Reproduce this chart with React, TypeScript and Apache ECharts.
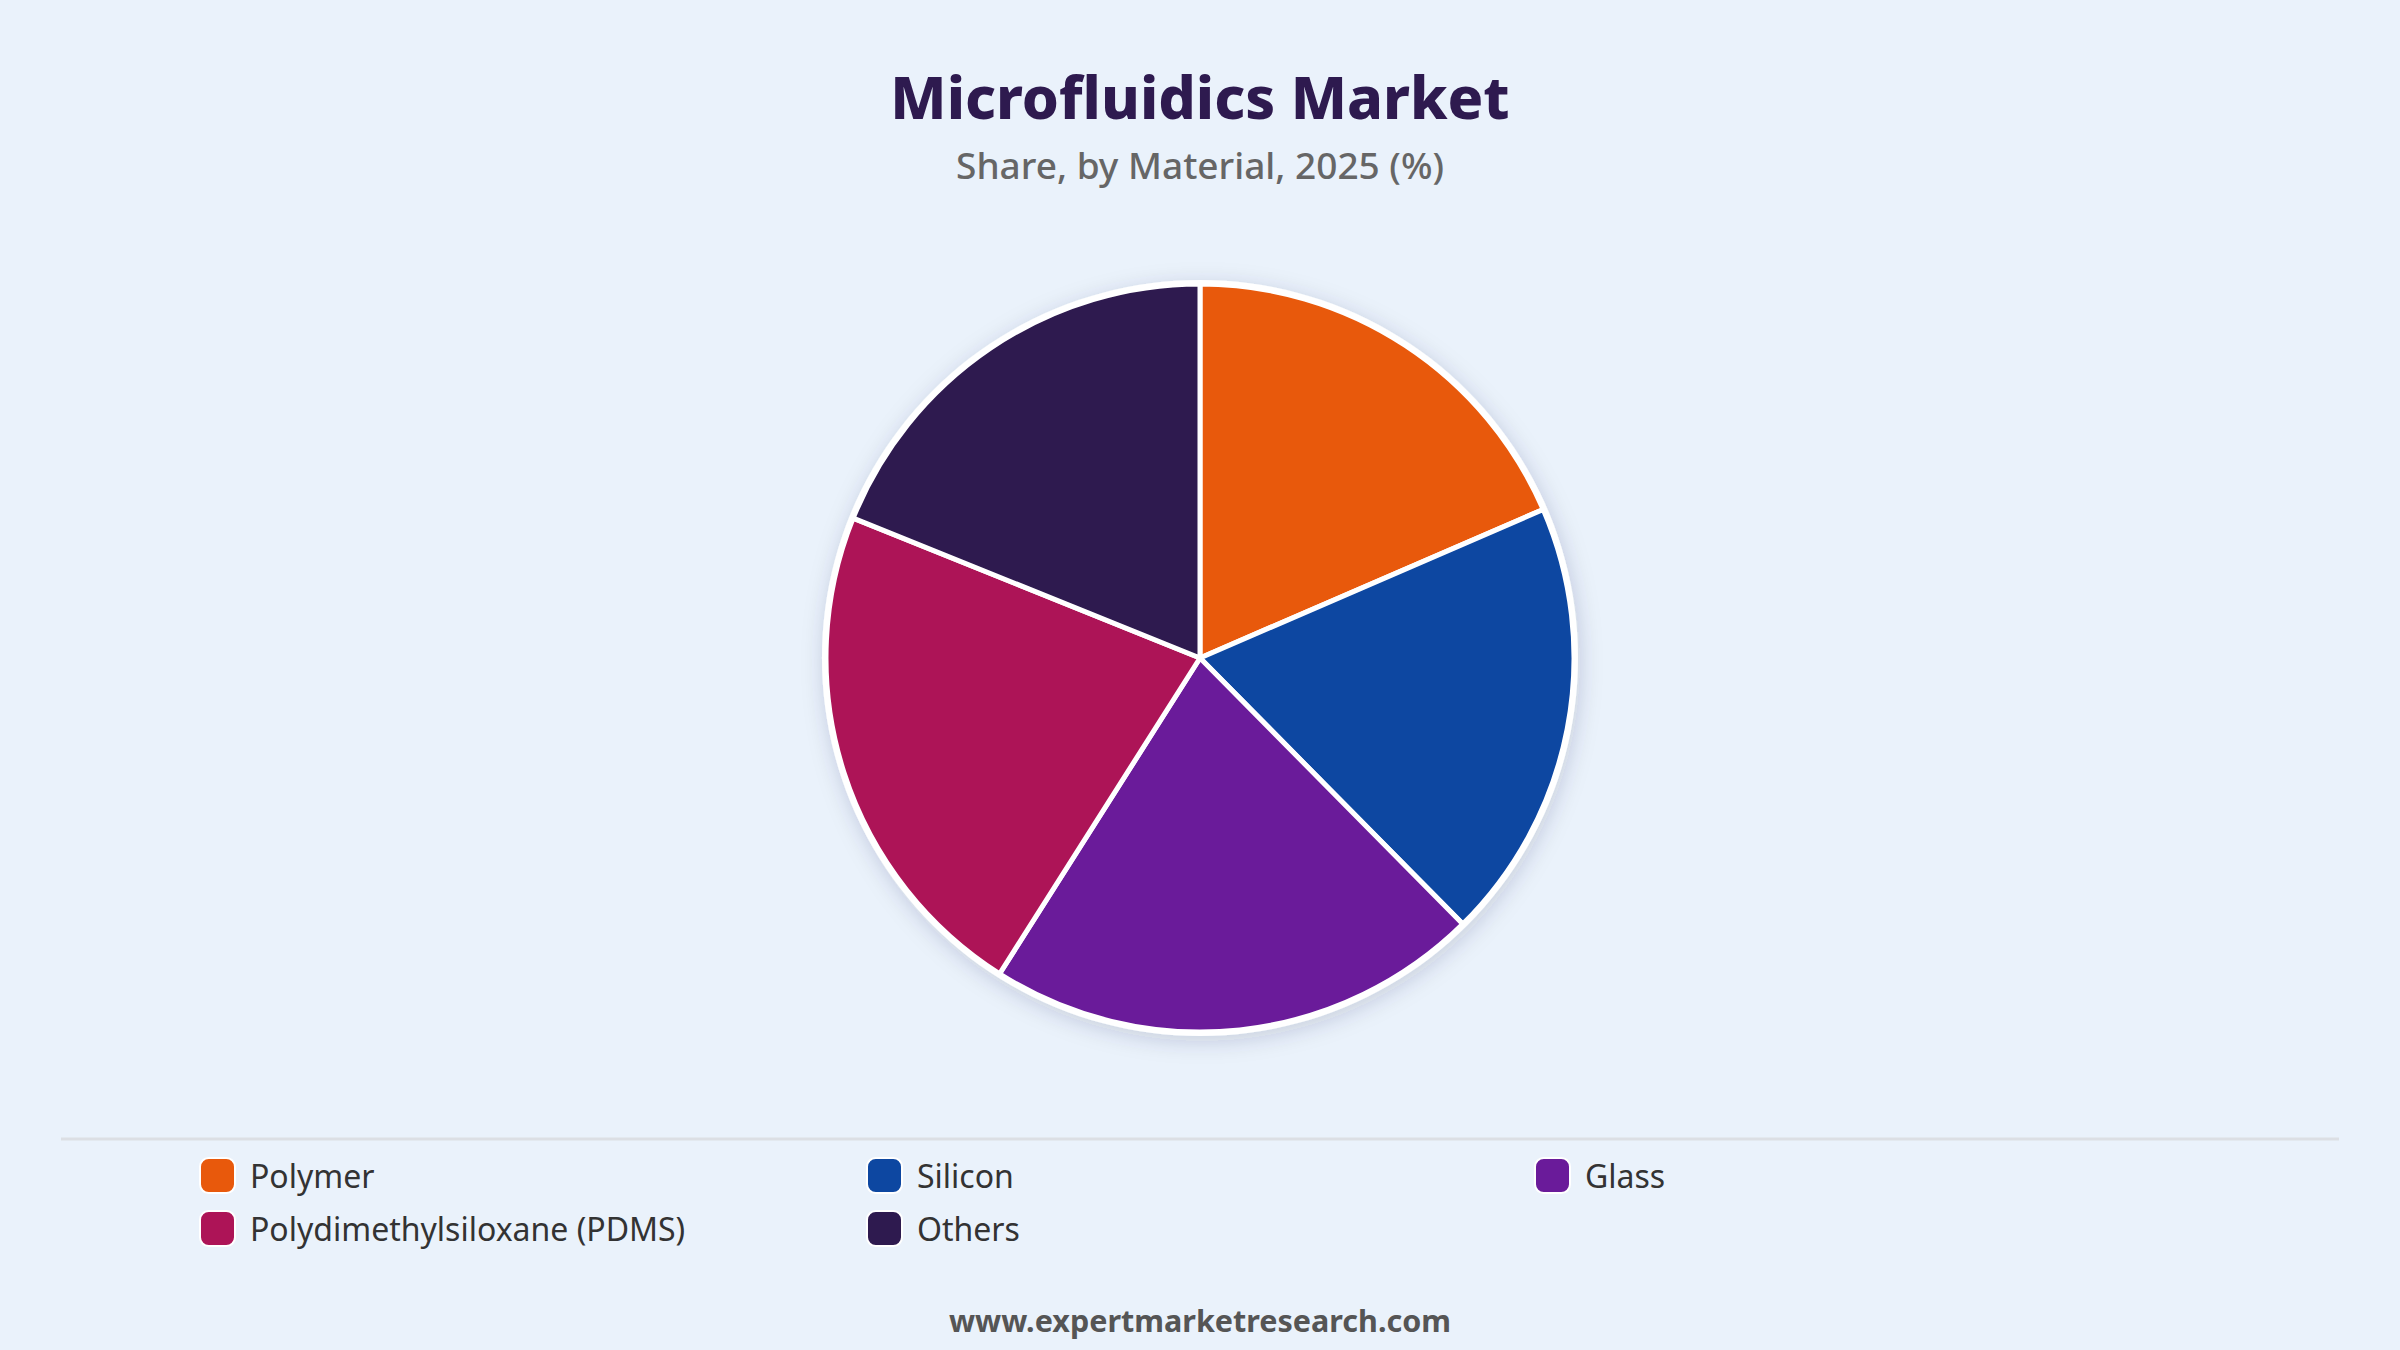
import React, { useEffect, useRef } from "react";
import * as echarts from "echarts";

const categories = ["Polymer", "Silicon", "Glass", "Polydimethylsiloxane (PDMS)", "Others"];
const shares = [18.5, 19.1, 21.4, 22.1, 18.9];
const colors = ["#E8590C", "#0D47A1", "#6A1B9A", "#AD1457", "#2E1A4F"];
const legendCol1 = ["Polymer", "Polydimethylsiloxane (PDMS)"];
const legendCol2 = ["Silicon", "Others"];
const legendCol3 = ["Glass"];

const FONT = "'Noto Sans', 'Open Sans', sans-serif";

export default function App() {
  const ref = useRef<HTMLDivElement>(null);
  useEffect(() => {
    document.body.style.margin = "0";
    if (!ref.current) return;
    const chart = echarts.init(ref.current, undefined, { renderer: "svg" });
    const legendBase = {
      orient: "vertical" as const,
      icon: "roundRect",
      itemWidth: 35,
      itemHeight: 35,
      itemGap: 16,
      top: 1157,
      padding: 0,
      selectedMode: false,
      textStyle: { fontFamily: FONT, fontSize: 32, color: "#333333", padding: [0, 0, 0, 10] },
    };
    chart.setOption({
      animation: false,
      backgroundColor: "#EAF2FB",
      title: [
        {
          text: "Microfluidics Market",
          left: "center",
          top: 61,
          textStyle: { fontFamily: FONT, fontWeight: 800, fontSize: 59, color: "#2E1A4F" },
        },
        {
          text: "Share, by Material, 2025 (%)",
          left: "center",
          top: 141,
          textStyle: { fontFamily: FONT, fontWeight: 500, fontSize: 37, color: "#666666" },
        },
        {
          text: "www.expertmarketresearch.com",
          left: "center",
          top: 1299,
          textStyle: { fontFamily: FONT, fontWeight: 700, fontSize: 30.5, color: "#555555" },
        },
      ],
      legend: [
        { ...legendBase, left: 199, data: legendCol1 },
        { ...legendBase, left: 866, data: legendCol2 },
        { ...legendBase, left: 1534, data: legendCol3 },
      ],
      graphic: [
        {
          type: "line",
          shape: { x1: 61, y1: 1139, x2: 2339, y2: 1139 },
          style: { stroke: "#DCDFE4", lineWidth: 3 },
          silent: true,
        },
      ],
      series: [
        {
          type: "pie",
          silent: true,
          center: [1200, 658],
          radius: [0, 378],
          label: { show: false },
          labelLine: { show: false },
          itemStyle: {
            color: "#FFFFFF",
            shadowBlur: 22,
            shadowColor: "rgba(40,50,80,0.18)",
            shadowOffsetX: 2,
            shadowOffsetY: 5,
          },
          data: [{ name: "", value: 1 }],
          legendHoverLink: false,
          z: 1,
        },
        {
          type: "pie",
          center: [1200, 658],
          radius: [0, 374],
          startAngle: 90,
          clockwise: true,
          label: { show: false },
          labelLine: { show: false },
          itemStyle: { borderColor: "#FFFFFF", borderWidth: 5 },
          data: categories.map((c, i) => ({
            name: c,
            value: shares[i],
            itemStyle: { color: colors[i] },
          })),
          z: 2,
        },
      ],
    });
    return () => chart.dispose();
  }, []);
  return <div ref={ref} style={{ width: 2400, height: 1350 }} />;
}
